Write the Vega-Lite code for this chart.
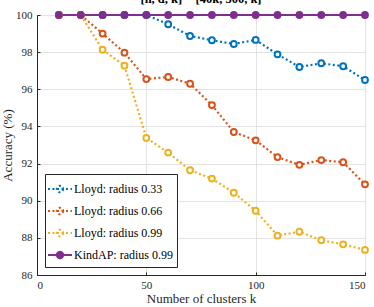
{
  "$schema": "https://vega.github.io/schema/vega-lite/v6.json",
  "width": 328,
  "height": 260,
  "autosize": {"type": "none"},
  "padding": {"left": 37, "top": 15, "right": 9, "bottom": 32},
  "background": "white",
  "config": {
    "font": "Liberation Serif",
    "view": {"stroke": "#555555", "strokeWidth": 1},
    "axis": {
      "labelFont": "Liberation Serif", "labelFontSize": 11, "labelColor": "#262626",
      "titleFont": "Liberation Serif", "titleFontSize": 13, "titleFontWeight": "normal", "titleColor": "#262626",
      "gridColor": "#e3e3e3", "domainColor": "#262626", "tickColor": "#262626", "tickSize": -3
    }
  },
  "title": {"text": "[n, d, k] = [40k, 300, k]", "font": "Liberation Serif", "fontSize": 12.5, "fontWeight": "bold", "color": "#000000", "offset": 3, "frame": "group"},
  "data": {"values": [
    {"series": "Lloyd: radius 0.33", "k": 10, "acc": 100},
    {"series": "Lloyd: radius 0.33", "k": 20, "acc": 100},
    {"series": "Lloyd: radius 0.33", "k": 30, "acc": 100},
    {"series": "Lloyd: radius 0.33", "k": 40, "acc": 100},
    {"series": "Lloyd: radius 0.33", "k": 50, "acc": 100},
    {"series": "Lloyd: radius 0.33", "k": 60, "acc": 99.5},
    {"series": "Lloyd: radius 0.33", "k": 70, "acc": 98.87},
    {"series": "Lloyd: radius 0.33", "k": 80, "acc": 98.64},
    {"series": "Lloyd: radius 0.33", "k": 90, "acc": 98.44},
    {"series": "Lloyd: radius 0.33", "k": 100, "acc": 98.66},
    {"series": "Lloyd: radius 0.33", "k": 110, "acc": 97.88},
    {"series": "Lloyd: radius 0.33", "k": 120, "acc": 97.2},
    {"series": "Lloyd: radius 0.33", "k": 130, "acc": 97.4},
    {"series": "Lloyd: radius 0.33", "k": 140, "acc": 97.24},
    {"series": "Lloyd: radius 0.33", "k": 150, "acc": 96.5},
    {"series": "Lloyd: radius 0.66", "k": 10, "acc": 100},
    {"series": "Lloyd: radius 0.66", "k": 20, "acc": 100},
    {"series": "Lloyd: radius 0.66", "k": 30, "acc": 99.0},
    {"series": "Lloyd: radius 0.66", "k": 40, "acc": 97.97},
    {"series": "Lloyd: radius 0.66", "k": 50, "acc": 96.55},
    {"series": "Lloyd: radius 0.66", "k": 60, "acc": 96.66},
    {"series": "Lloyd: radius 0.66", "k": 70, "acc": 96.3},
    {"series": "Lloyd: radius 0.66", "k": 80, "acc": 95.15},
    {"series": "Lloyd: radius 0.66", "k": 90, "acc": 93.7},
    {"series": "Lloyd: radius 0.66", "k": 100, "acc": 93.25},
    {"series": "Lloyd: radius 0.66", "k": 110, "acc": 92.35},
    {"series": "Lloyd: radius 0.66", "k": 120, "acc": 91.93},
    {"series": "Lloyd: radius 0.66", "k": 130, "acc": 92.19},
    {"series": "Lloyd: radius 0.66", "k": 140, "acc": 92.07},
    {"series": "Lloyd: radius 0.66", "k": 150, "acc": 90.88},
    {"series": "Lloyd: radius 0.99", "k": 10, "acc": 100},
    {"series": "Lloyd: radius 0.99", "k": 20, "acc": 100},
    {"series": "Lloyd: radius 0.99", "k": 30, "acc": 98.13},
    {"series": "Lloyd: radius 0.99", "k": 40, "acc": 97.27},
    {"series": "Lloyd: radius 0.99", "k": 50, "acc": 93.38},
    {"series": "Lloyd: radius 0.99", "k": 60, "acc": 92.59},
    {"series": "Lloyd: radius 0.99", "k": 70, "acc": 91.64},
    {"series": "Lloyd: radius 0.99", "k": 80, "acc": 91.19},
    {"series": "Lloyd: radius 0.99", "k": 90, "acc": 90.43},
    {"series": "Lloyd: radius 0.99", "k": 100, "acc": 89.46},
    {"series": "Lloyd: radius 0.99", "k": 110, "acc": 88.12},
    {"series": "Lloyd: radius 0.99", "k": 120, "acc": 88.33},
    {"series": "Lloyd: radius 0.99", "k": 130, "acc": 87.87},
    {"series": "Lloyd: radius 0.99", "k": 140, "acc": 87.65},
    {"series": "Lloyd: radius 0.99", "k": 150, "acc": 87.35},
    {"series": "KindAP: radius 0.99", "k": 10, "acc": 100},
    {"series": "KindAP: radius 0.99", "k": 20, "acc": 100},
    {"series": "KindAP: radius 0.99", "k": 30, "acc": 100},
    {"series": "KindAP: radius 0.99", "k": 40, "acc": 100},
    {"series": "KindAP: radius 0.99", "k": 50, "acc": 100},
    {"series": "KindAP: radius 0.99", "k": 60, "acc": 100},
    {"series": "KindAP: radius 0.99", "k": 70, "acc": 100},
    {"series": "KindAP: radius 0.99", "k": 80, "acc": 100},
    {"series": "KindAP: radius 0.99", "k": 90, "acc": 100},
    {"series": "KindAP: radius 0.99", "k": 100, "acc": 100},
    {"series": "KindAP: radius 0.99", "k": 110, "acc": 100},
    {"series": "KindAP: radius 0.99", "k": 120, "acc": 100},
    {"series": "KindAP: radius 0.99", "k": 130, "acc": 100},
    {"series": "KindAP: radius 0.99", "k": 140, "acc": 100},
    {"series": "KindAP: radius 0.99", "k": 150, "acc": 100}
  ]},
  "encoding": {
    "x": {"field": "k", "type": "quantitative", "title": "Number of clusters k",
      "scale": {"domain": [0, 150], "nice": false},
      "axis": {"values": [0, 50, 100, 150], "titlePadding": 2, "labelPadding": 7}},
    "y": {"field": "acc", "type": "quantitative", "title": "Accuracy (%)",
      "scale": {"domain": [86, 100], "nice": false, "zero": false},
      "axis": {"values": [86, 88, 90, 92, 94, 96, 98, 100], "titlePadding": 1, "labelPadding": 8}}
  },
  "layer": [
    {
      "mark": {"type": "line", "strokeWidth": 2.2},
      "encoding": {
        "color": {"field": "series", "type": "nominal",
          "scale": {"domain": ["Lloyd: radius 0.33", "Lloyd: radius 0.66", "Lloyd: radius 0.99", "KindAP: radius 0.99"],
                    "range": ["#0072BD", "#D95319", "#EDB120", "#7E2F8E"]},
          "legend": {
            "title": null, "orient": "bottom-left", "offset": 8,
            "labelFont": "Liberation Serif", "labelFontSize": 12, "labelColor": "#000000",
            "strokeColor": "#262626", "fillColor": "white", "padding": 4, "rowPadding": 3,
            "symbolType": "M-1.2,0H1.2M0.32,0A0.32,0.32 0 1,1 -0.32,0A0.32,0.32 0 1,1 0.32,0Z",
            "symbolSize": 400, "symbolStrokeWidth": 2, "labelOffset": 3,
            "encode": {"symbols": {"update": {
              "fill": {"scale": "color", "field": "value"},
              "stroke": {"scale": "color", "field": "value"},
              "strokeDash": [{"test": "datum.label === 'KindAP: radius 0.99'", "value": [1, 0]}, {"value": [2, 2]}]
            }}}
          }},
        "strokeDash": {"field": "series", "type": "nominal", "legend": null,
          "scale": {"domain": ["Lloyd: radius 0.33", "Lloyd: radius 0.66", "Lloyd: radius 0.99", "KindAP: radius 0.99"],
                    "range": [[2, 2.5], [2, 2.5], [2, 2.5], [1, 0]]}},
        "order": {"field": "k"}
      }
    },
    {
      "mark": {"type": "point", "shape": "circle", "size": 34, "strokeWidth": 2, "opacity": 1},
      "encoding": {
        "stroke": {"field": "series", "type": "nominal", "legend": null,
          "scale": {"domain": ["Lloyd: radius 0.33", "Lloyd: radius 0.66", "Lloyd: radius 0.99", "KindAP: radius 0.99"],
                    "range": ["#0072BD", "#D95319", "#EDB120", "#7E2F8E"]}},
        "fill": {"field": "series", "type": "nominal", "legend": null,
          "scale": {"domain": ["Lloyd: radius 0.33", "Lloyd: radius 0.66", "Lloyd: radius 0.99", "KindAP: radius 0.99"],
                    "range": ["#ffffff", "#ffffff", "#ffffff", "#7E2F8E"]}}
      }
    }
  ]
}
